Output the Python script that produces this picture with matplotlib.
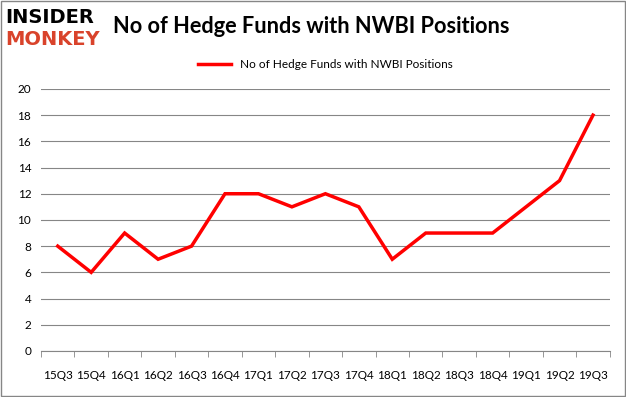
import matplotlib
matplotlib.use("Agg")
import matplotlib.pyplot as plt

# quarters and hedge fund counts
quarters = ["15Q3", "15Q4", "16Q1", "16Q2", "16Q3", "16Q4", "17Q1", "17Q2", "17Q3",
            "17Q4", "18Q1", "18Q2", "18Q3", "18Q4", "19Q1", "19Q2", "19Q3"]
funds = [8, 6, 9, 7, 8, 12, 12, 11, 12, 11, 7, 9, 9, 9, 11, 13, 18]
yticks = list(range(0, 21, 2))

plt.rcParams["font.family"] = ["Lato", "DejaVu Sans"]

fig = plt.figure(figsize=(6.26, 3.97), dpi=100)
ax = fig.add_axes([0.0655, 0.116, 0.9085, 0.66])

x = list(range(len(quarters)))
ax.plot(x, funds, color="#ff0000", lw=2.5, solid_joinstyle="miter",
        label="No of Hedge Funds with NWBI Positions")

ax.set_xlim(-0.5, len(quarters) - 0.5)
ax.set_ylim(0, 20)
ax.set_yticks(yticks)
ax.set_xticks(x)
ax.set_xticklabels(quarters, fontsize=8.5)
ax.set_xticks([i - 0.5 for i in range(len(quarters) + 1)], minor=True)
ax.tick_params(axis="x", which="major", length=0, pad=14)
ax.tick_params(axis="x", which="minor", length=4, color="#868686")
ax.tick_params(axis="y", length=0, labelsize=8.5, pad=7)
ax.grid(axis="y", color="#868686", lw=0.8)
ax.set_axisbelow(True)
for side in ["top", "right", "left"]:
    ax.spines[side].set_visible(False)
ax.spines["bottom"].set_color("#868686")

ax.legend(loc="lower center", bbox_to_anchor=(0.5, 1.03), frameon=False,
          fontsize=8.5, handlelength=2.8)

fig.text(0.181, 0.932, "No of Hedge Funds with NWBI Positions", fontsize=15.7,
         fontweight="bold", va="center", ha="left")
fig.text(0.008, 0.957, "INSIDER", fontsize=14, fontweight="heavy", va="center",
         color="black", family="DejaVu Sans")
fig.text(0.008, 0.9, "MONKEY", fontsize=14, fontweight="heavy", va="center",
         color="#d9432b", family="DejaVu Sans")

# outer frame
fig.patches.append(plt.Rectangle((0.002, 0.002), 0.996, 0.995, transform=fig.transFigure,
                                 fill=False, edgecolor="#868686", lw=1))

plt.savefig("out.png", dpi=100)
